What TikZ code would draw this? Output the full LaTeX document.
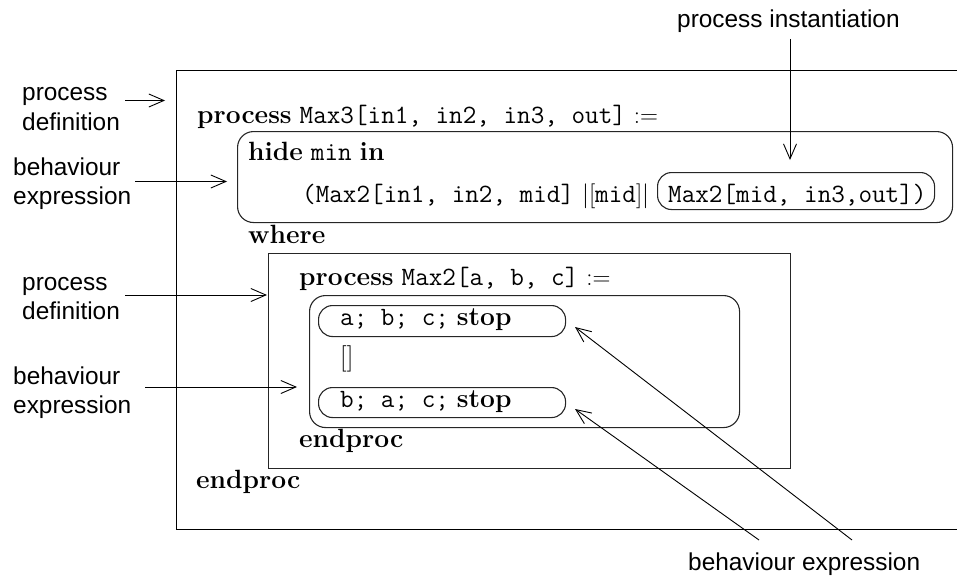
\documentclass[tikz,border=0pt]{standalone}
\usepackage{fontspec}
\newfontfamily\lblfont{Liberation Sans}
\usetikzlibrary{arrows.meta}
\begin{document}
\begin{tikzpicture}[x=1pt,y=-1pt,
  code/.style={font=\fontsize{26.4}{30}\selectfont, inner sep=0pt, anchor=base west},
  lbl/.style={font=\lblfont\fontsize{24.4}{29.5}\selectfont, inner sep=0pt, anchor=base west, align=left},
  frame/.style={draw=black!85, line width=1.1pt, inner sep=0pt, anchor=north west},
  pill/.style={frame, rounded corners=14pt},
  rbox/.style={frame, rounded corners=16pt},
  arr/.style={line width=0.9pt, -{Straight Barb[length=15pt,width=13pt]}}]
\useasboundingbox (0,0) rectangle (957,575);

% outer process Max3 (its right side lies past the page edge)
\node[frame, draw=black, minimum width=820pt, minimum height=459pt] (outer) at (176,70) {};
% hide ... in behaviour expression
\node[rbox, minimum width=715pt, minimum height=91pt] (hidebox) at (237,131) {};
% process instantiation of Max2
\node[pill, minimum width=277pt, minimum height=37pt] (inst) at (657,172) {};
% inner process Max2
\node[frame, minimum width=522pt, minimum height=215pt] (max2) at (268,253) {};
% choice behaviour expression
\node[rbox, minimum width=430pt, minimum height=132pt] (choice) at (309,295) {};
\node[pill, minimum width=247pt, minimum height=31pt] (stopA) at (318,305) {};
\node[pill, minimum width=247pt, minimum height=30pt] (stopB) at (318,387) {};

% code text
\node[code] (hdr1) at (197,123) {\textbf{process} \texttt{Max3[in1, in2, in3, out]} $:=$};
\node[code] (hide) at (248,160) {\textbf{hide} \texttt{min} \textbf{in}};
\node[code] (par) at (302,202) {\texttt{(Max2[in1, in2, mid]} $|[$\texttt{mid}$]|$};
\node[code] (call) at (668,202) {\texttt{Max2[mid, in3,out])}};
\node[code] (where) at (248,243) {\textbf{where}};
\node[code] (hdr2) at (299,285) {\textbf{process} \texttt{Max2[a, b, c]} $:=$};
\node[code] (seqA) at (340,325) {\texttt{a; b; c;} \textbf{stop}};
\node[code] (alt) at (340,365) {[]};
\node[code] (seqB) at (340,407) {\texttt{b; a; c;} \textbf{stop}};
\node[code] (end2) at (299,447) {\textbf{endproc}};
\node[code] (end1) at (196,488) {\textbf{endproc}};

% annotations (anchored at the baseline of their last line)
\node[lbl] (pd1) at (22,130) {process\\definition};
\node[lbl] (be1) at (13,204.5) {behaviour\\expression};
\node[lbl] (pd2) at (22,319.5) {process\\definition};
\node[lbl] (be2) at (13,413.5) {behaviour\\expression};
\node[lbl] (pinst) at (677,28) {process instantiation};
\node[lbl] (be3) at (688,570) {behaviour expression};

% arrow end points
\coordinate (pd1s) at (125,100.5);   \coordinate (pd1e) at (165,100.5);
\coordinate (be1s) at (135,181.5);   \coordinate (be1e) at (227,181.5);
\coordinate (pd2s) at (125,295);     \coordinate (pd2e) at (267,295);
\coordinate (be2s) at (145,387);     \coordinate (be2e) at (297,387);
\coordinate (pis) at (790,39);       \coordinate (pie) at (790,160);
\coordinate (beAs) at (852,540);     \coordinate (beAe) at (575,327);
\coordinate (beBs) at (759,540);     \coordinate (beBe) at (575,409);

\draw[arr] (pd1s) -- (pd1e);
\draw[arr] (be1s) -- (be1e);
\draw[arr] (pd2s) -- (pd2e);
\draw[arr] (be2s) -- (be2e);
\draw[arr] (pis) -- (pie);
\draw[arr] (beAs) -- (beAe);
\draw[arr] (beBs) -- (beBe);
\end{tikzpicture}
\end{document}
